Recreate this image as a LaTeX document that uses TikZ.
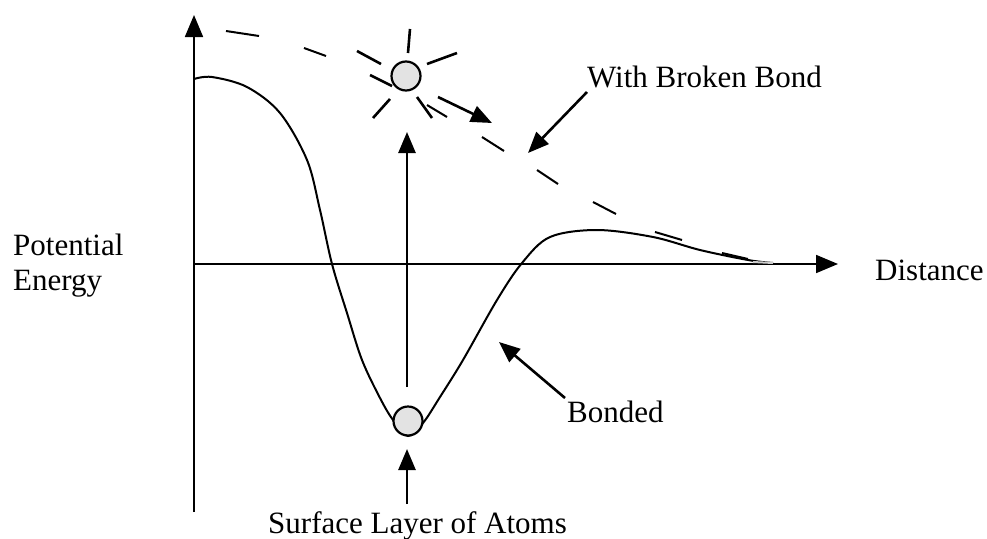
\documentclass[tikz,border=0pt]{standalone}
\usepackage{fontspec}
\setmainfont{Liberation Serif}
\usetikzlibrary{arrows.meta}
\definecolor{atomgray}{gray}{0.89}
\begin{document}
\begin{tikzpicture}[x=1pt,y=-1pt,
  lbl/.style={inner sep=0pt, font=\fontsize{31}{36}\selectfont},
  axis/.style={line width=1.8pt, -{Triangle[length=22pt,width=18pt]}},
  pointer/.style={line width=2.6pt, -{Triangle[length=21pt,width=17pt]}},
  curve/.style={line width=2pt},
  dashseg/.style={line width=2pt},
  ray/.style={line width=2.6pt},
  atom/.style={circle, draw, line width=2.2pt, fill=atomgray, minimum size=29pt, inner sep=0pt}]
\useasboundingbox (0,0) rectangle (987,538);

% axes
\coordinate (O) at (194,264);
\coordinate (ybot) at (194,512);
\coordinate (ytop) at (194,15);
\coordinate (xend) at (838,264);
\draw[axis] (ybot) -- (ytop);
\draw[axis] (O) -- (xend);

% bonded potential curve
\draw[curve] plot[smooth, tension=0.55] coordinates {
  (194,79) (212,77) (247,87) (280,113) (307,160) (320,210) (332,264)
  (347,313) (362,360) (380,398) (393,420) (408,436) (423,423) (440,397)
  (463,360) (497,300) (522,263) (550,237) (597,230) (653,237) (700,250)
  (748,260) (773,263)};

% broken bond dashed curve
\draw[dashseg] (226,31) -- (259,36);
\draw[dashseg] (304,48) -- (326,56);
\draw[dashseg] (427,105) -- (447,117);
\draw[dashseg] (482,137) -- (504,151);
\draw[dashseg] (537,170) -- (558,184);
\draw[dashseg] (593,202) -- (616,214);
\draw[dashseg] (655,232) -- (682,240);
\draw[dashseg] (722,253) -- (748,259);
\draw[dashseg, black!20] (753,262) -- (773,263);

% atoms
\node[atom] (atomtop) at (406,76) {};
\node[atom] (atombot) at (408,421) {};

% rays around the excited atom
\draw[ray] (410,29) -- (408,53);
\draw[ray] (427,64) -- (457,53);
\draw[ray] (357,51) -- (381,64);
\draw[ray] (370,75) -- (392,86);
\draw[ray] (373,118) -- (390,99);
\draw[ray] (417,97) -- (432,118);

% labels
\node[lbl, anchor=base west] (pe1) at (13,255) {Potential};
\node[lbl, anchor=base west] (pe2) at (13,290) {Energy};
\node[lbl, anchor=base west] (dist) at (875,280) {Distance};
\node[lbl, anchor=base west] (broken) at (587,87) {With Broken Bond};
\node[lbl, anchor=base west] (bonded) at (567,422) {Bonded};
\node[lbl, anchor=base west] (surf) at (268,533) {Surface Layer of Atoms};

% pointer arrows
\coordinate (upstart) at (407,387);
\coordinate (uptip) at (407,132);
\draw[pointer] (upstart) -- (uptip);
\coordinate (surfstart) at (407,504);
\coordinate (surftip) at (407,449);
\draw[pointer] (surfstart) -- (surftip);
\coordinate (brokstart) at (587,92);
\coordinate (broktip) at (528,153);
\draw[pointer] (brokstart) -- (broktip);
\coordinate (bondstart) at (565,398);
\coordinate (bondtip) at (499,342);
\draw[pointer] (bondstart) -- (bondtip);
\coordinate (flystart) at (438,97);
\coordinate (flytip) at (492,123);
\draw[pointer] (flystart) -- (flytip);
\end{tikzpicture}
\end{document}
